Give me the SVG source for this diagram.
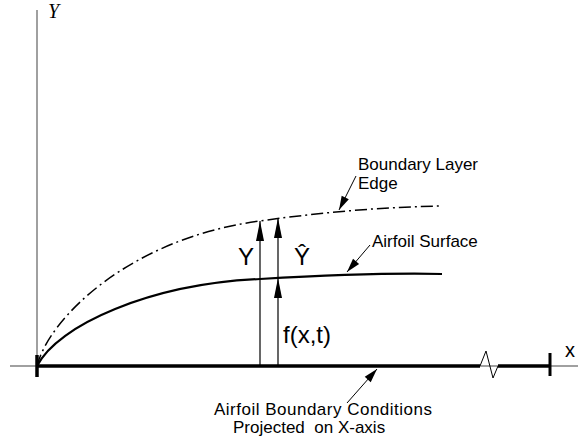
<svg xmlns="http://www.w3.org/2000/svg" width="581" height="442" viewBox="0 0 581 442">
<defs>
<marker id="bigHead" markerUnits="userSpaceOnUse" markerWidth="20" markerHeight="8" refX="20" refY="4" orient="auto" overflow="visible">
<path d="M0,0 L20,4 L0,8 Z" fill="#000"/>
</marker>
<marker id="smallHead" markerUnits="userSpaceOnUse" markerWidth="14" markerHeight="8" refX="14" refY="4" orient="auto" overflow="visible">
<path d="M0,0 L14,4 L0,8 Z" fill="#000"/>
</marker>
</defs>
<style>
.axis{stroke:#808080;stroke-width:1.5;fill:none}
.thick{stroke:#000;stroke-width:3.5;fill:none}
.thin{stroke:#000;stroke-width:1;fill:none}
.arrow{stroke:#000;stroke-width:1.2;fill:none;marker-end:url(#bigHead)}
.leader{stroke:#000;stroke-width:1;fill:none;marker-end:url(#smallHead)}
.lbl{font-family:"Liberation Sans",Arial,sans-serif;font-size:17px;fill:#000}
.big{font-family:"Liberation Sans",Arial,sans-serif;font-size:24px;fill:#000}
</style>
<rect width="581" height="442" fill="#fff"/>
<g id="axes">
<line class="axis" x1="37" y1="10" x2="37" y2="366"/>
<line class="axis" x1="10" y1="366" x2="578" y2="366"/>
<text x="48" y="18" font-family="Liberation Serif,serif" font-style="italic" font-size="20">Y</text>
<text x="565" y="357" class="lbl" style="font-size:20px">x</text>
</g>
<g id="airfoil-boundary">
<line class="thick" x1="37" y1="366" x2="480" y2="366"/>
<path class="thin" d="M480,366 L486,351 L493,378 L498,366"/>
<line class="thick" x1="498" y1="366" x2="550" y2="366"/>
<line x1="37" y1="355" x2="37" y2="377" stroke="#000" stroke-width="3.5"/>
<line x1="550" y1="353" x2="550" y2="376" stroke="#000" stroke-width="3"/>
</g>
<g id="boundary-layer-edge">
<path d="M37,366 C49,318 130,238 260,221 C330,211 390,207 440,206" fill="none" stroke="#000" stroke-width="1.5" stroke-dasharray="12 4 2 4"/>
</g>
<g id="airfoil-surface">
<path d="M37,366 C58,325 150,284 260,279 C330,275 400,273 442,274" fill="none" stroke="#000" stroke-width="2.2"/>
</g>
<g id="connectors">
<line class="arrow" x1="260" y1="366" x2="260" y2="221"/>
<line class="arrow" x1="278" y1="278" x2="278" y2="218"/>
<line class="arrow" x1="278" y1="366" x2="278" y2="278"/>
<line class="leader" x1="356" y1="176" x2="339" y2="210"/>
<line class="leader" x1="370" y1="245" x2="347" y2="272"/>
<line class="leader" x1="347" y1="403" x2="377" y2="369"/>
</g>
<g id="labels">
<text x="238" y="265" class="big">Y</text>
<text x="294" y="265" class="big">Ŷ</text>
<text x="283" y="343" class="big">f(x,t)</text>
<text x="358" y="170" class="lbl">Boundary Layer</text>
<text x="358" y="189" class="lbl">Edge</text>
<text x="372" y="247" class="lbl">Airfoil Surface</text>
<text x="214" y="415" class="lbl" textLength="218">Airfoil Boundary Conditions</text>
<text x="233" y="433" class="lbl" xml:space="preserve">Projected  on X-axis</text>
</g>
</svg>
